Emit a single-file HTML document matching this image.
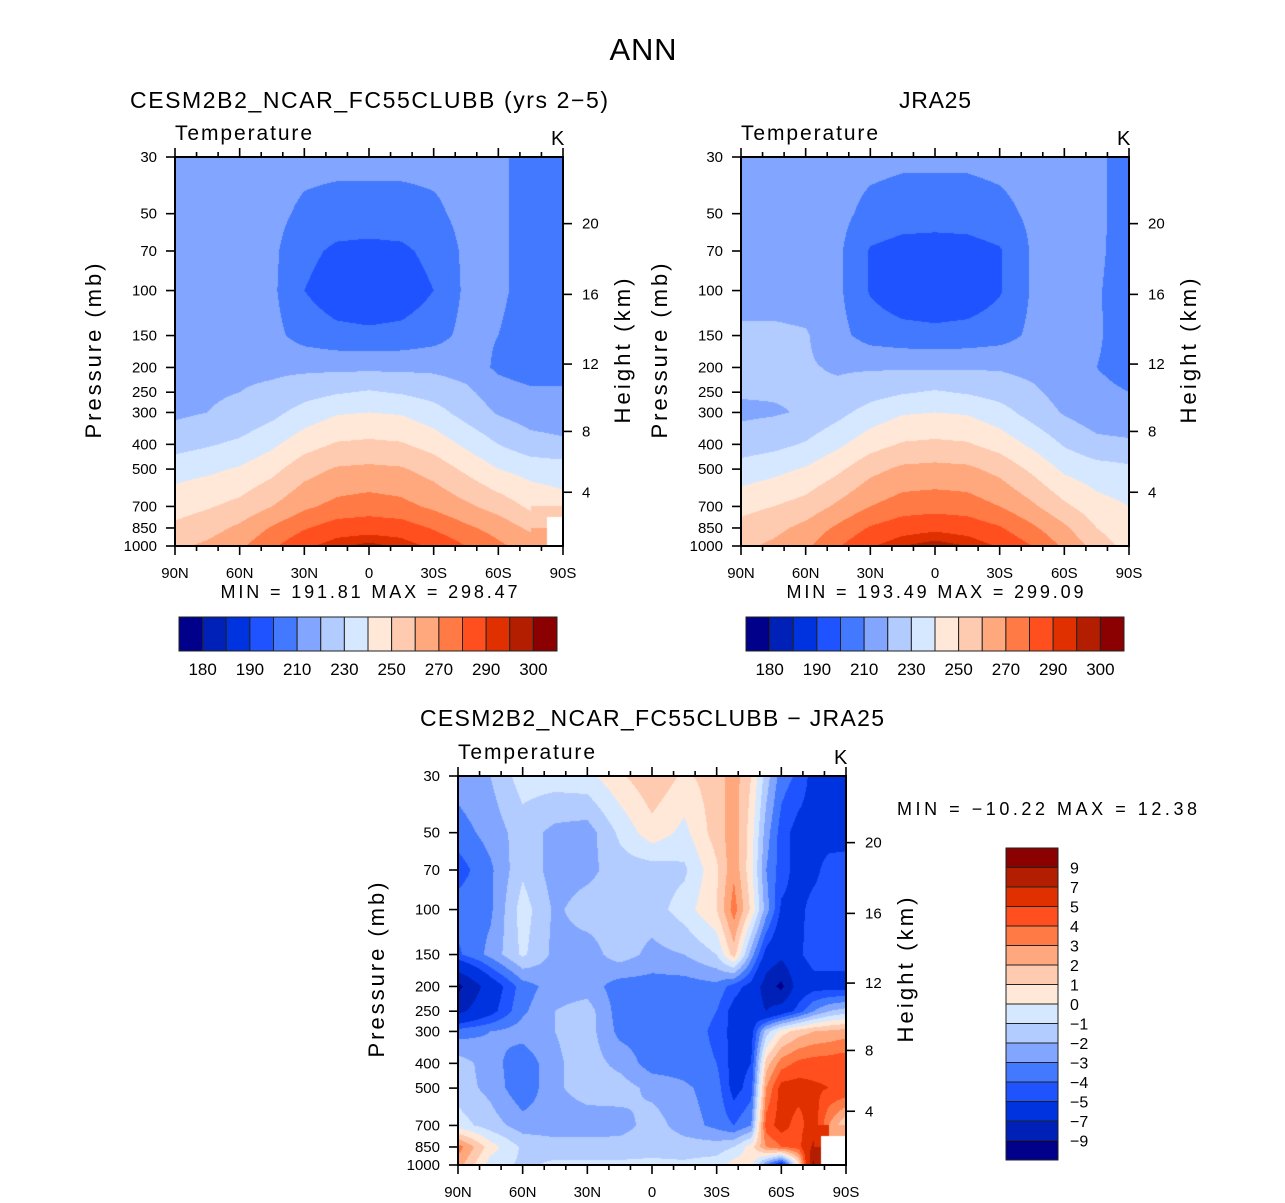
<!DOCTYPE html>
<html><head><meta charset="utf-8">
<style>
body{margin:0;background:#fff;width:1285px;height:1203px;overflow:hidden;position:relative;font-family:"Liberation Sans",sans-serif}
canvas{position:absolute}
svg{position:absolute;left:0;top:0}
text{font-family:"Liberation Sans",sans-serif;fill:#000}
</style></head>
<body>
<canvas id="c1" width="388" height="389" style="left:175px;top:157px"></canvas>
<canvas id="c2" width="388" height="389" style="left:741px;top:157px"></canvas>
<canvas id="c3" width="388" height="389" style="left:458px;top:776px"></canvas>
<svg id="s" width="1285" height="1203">
<text x="643" y="60" font-size="31" text-anchor="middle" textLength="67">ANN</text>
</svg>
<script>
const levs=[30,50,70,100,150,200,250,300,400,500,700,850,1000];
const latsT=[90,75,60,45,30,15,0,-15,-30,-45,-60,-75,-90];
const cesm=[
[215,215,215,214,213,213,213,213,213,213,212,206,205],
[215,215,214,213,208,206,206,206,208,213,212,206,205],
[215,215,214,212,203,198,197,198,203,212,212,206,205],
[215,215,214,212,200,194,193,194,200,212,212,206,205],
[216,216,215,213,206,203,202,203,206,213,210,205,204],
[217,217,218,218,218,218,218,218,218,216,208,204,204],
[218,219,220,222,226,229,231,229,226,222,215,212,212],
[218,220,222,227,234,239,240,239,234,226,219,215,214],
[226,229,232,238,246,251,252,251,246,238,230,224,222],
[236,238,241,247,256,261,262,261,256,248,240,236,235],
[246,249,253,260,268,273,275,273,268,262,256,248,244],
[252,256,262,271,279,285,286,285,279,272,266,258,NaN],
[258,262,268,278,288,294,297,294,288,280,272,266,NaN]];
const jra=[
[215,215,215,214,213,212,212,212,213,214,214,212,206],
[215,215,215,213,207,205,205,205,207,212,214,212,206],
[215,215,215,212,199,196,195,196,199,211,213,212,205],
[216,216,215,212,199,193,192,193,199,211,212,211,205],
[222,222,221,213,206,204,203,204,206,212,213,211,206],
[222,223,221,219,219,219,219,219,219,217,214,210,207],
[221,221,221,222,226,229,231,229,226,222,216,212,210],
[218,219,221,227,234,239,240,239,234,226,219,214,212],
[225,227,231,238,246,251,252,251,246,238,229,223,222],
[234,237,241,248,257,262,263,262,257,248,238,234,232],
[247,250,254,262,270,275,276,275,270,262,252,244,240],
[253,257,263,272,281,286,288,286,281,272,262,250,242],
[258,262,268,279,289,295,298,295,289,280,268,256,246]];
const diffLats=[90,75,60,45,30,15,0,-15,-30,-38,-46,-53,-60,-68,-75,-82,-90];
const diff=[
[-2.5,-2,-0.5,-0.5,-0.3,0.8,1.8,0.8,1.5,2.5,1.0,-1.5,-3.5,-4.2,-5.5,-5.5,-5.5],
[-3.5,-2.6,-1.5,-2.3,-2.5,-0.8,0.6,-0.3,1.5,2.6,0.5,-2.5,-4.5,-5.5,-5.5,-5.5,-5.5],
[-4.5,-3.2,-1.2,-2.5,-2.3,-1.5,-1.5,-1.2,0.8,2.8,0.3,-3,-4.5,-5.5,-5.3,-4.6,-4.5],
[-3.5,-3.2,-0.5,-2.2,-1.5,-1.5,-1.5,-0.5,1.0,3.5,0.8,-2.5,-5.2,-5.3,-4.6,-4.6,-4.2],
[-4.2,-2.7,-0.8,-2.3,-2.5,-1.5,-2.3,-2.0,-1.0,1.5,-2.5,-5.5,-6.5,-5.2,-4.5,-4.5,-4.5],
[-9.5,-6,-3.5,-2.5,-2.5,-3.5,-3.5,-3.5,-3.3,-4.5,-5.5,-8,-9.5,-6,-5.5,-5.5,-5.5],
[-7.5,-5.5,-3.2,-2,-1.5,-3.5,-3.5,-3.5,-4,-5.5,-6,-7,-6,-4.5,-3,-2,-1.5],
[-3.5,-3,-2.5,-2,-1.5,-3.3,-3.5,-3.5,-4.2,-5.5,-5.5,-1.5,0.5,1.5,2,2.2,2.5],
[-1.5,-2.5,-3.8,-2.2,-1.5,-2.3,-3.5,-3.5,-4,-5.5,-5,1.5,3.5,4.3,4.5,4.6,4.8],
[-1.5,-2.3,-3.8,-2.2,-1.5,-1.5,-2.3,-2.8,-3.5,-5.5,-4.5,3,5.5,5.5,5.2,5.0,5.0],
[-0.5,-1.5,-2.5,-2.6,-2.6,-2.5,-1.5,-2.5,-3.3,-4,-3,4.5,5.5,4.5,5.8,3,1],
[3.5,0.5,-1.2,-1.5,-1.5,-1.5,-1.3,-1.5,-1.5,-1,0.5,3,4,4.5,7.5,NaN,NaN],
[2.5,-0.5,-1.2,-0.8,-0.8,-0.8,-0.8,-0.8,-0.5,0.5,0.5,-3,-6,0.5,9.5,NaN,NaN]];
const absBounds=[180,185,190,200,210,220,230,240,250,260,270,280,290,295,300];
const absLabels=["180","190","210","230","250","270","290","300"];
const diffBounds=[-9,-7,-5,-4,-3,-2,-1,0,1,2,3,4,5,7,9];
const diffLabels=["9","7","5","4","3","2","1","0","−1","−2","−3","−4","−5","−7","−9"];
const colors=['#00008a','#0021b8','#0033e0','#1f53ff','#4279ff','#82a6ff','#b3ccff','#d6e8ff','#ffe8d8','#ffcbb0','#ffa87e','#ff7a45','#ff4f1e','#e03000','#b31e00','#8b0000'];
const heights=[4,8,12,16,20];
const heightP=[616,356,194,103.5,54.7];
const xTickLabels=["90N","60N","30N","0","30S","60S","90S"];

const W=388,H=389,LN=Math.log(1000/30);
function yOfP(p){return Math.log(p/30)/LN*H;}
function xOfLat(l){return (90-l)/180*W;}
function rgb(h){return [parseInt(h.slice(1,3),16),parseInt(h.slice(3,5),16),parseInt(h.slice(5,7),16)];}
const crgb=colors.map(rgb);
function drawField(id,lats,grid,bounds){
  const cv=document.getElementById(id),ctx=cv.getContext('2d');
  const img=ctx.createImageData(W,H);
  const ly=levs.map(p=>Math.log(p/30));
  for(let py=0;py<H;py++){
    const l=(py+0.5)/H*LN;
    let j=0;while(j<levs.length-2&&ly[j+1]<l)j++;
    const t=(l-ly[j])/(ly[j+1]-ly[j]);
    for(let px=0;px<W;px++){
      const lat=90-(px+0.5)/W*180;
      let i=0;while(i<lats.length-2&&lats[i+1]>lat)i++;
      const s=(lats[i]-lat)/(lats[i]-lats[i+1]);
      const a=grid[j][i],b=grid[j][i+1],c=grid[j+1][i],d=grid[j+1][i+1];
      let v;
      if(isNaN(a)||isNaN(b)||isNaN(c)||isNaN(d)){
        const near=grid[t<0.5?j:j+1][s<0.5?i:i+1];
        if(isNaN(near))v=NaN;
        else{const ok=[a,b,c,d].filter(x=>!isNaN(x));v=ok.reduce((p,q)=>p+q)/ok.length;}
      }else v=(1-t)*((1-s)*a+s*b)+t*((1-s)*c+s*d);
      const k=(py*W+px)*4;
      if(isNaN(v)){img.data[k]=255;img.data[k+1]=255;img.data[k+2]=255;img.data[k+3]=255;continue;}
      let ci=0;while(ci<bounds.length&&v>=bounds[ci])ci++;
      const col=crgb[ci];
      img.data[k]=col[0];img.data[k+1]=col[1];img.data[k+2]=col[2];img.data[k+3]=255;
    }
  }
  ctx.putImageData(img,0,0);
}
drawField('c1',latsT,cesm,absBounds);
drawField('c2',latsT,jra,absBounds);
drawField('c3',diffLats,diff,diffBounds);

const S=document.getElementById('s'),NS='http://www.w3.org/2000/svg';
function el(tag,at,txt){const e=document.createElementNS(NS,tag);for(const k in at)e.setAttribute(k,at[k]);if(txt!==undefined)e.textContent=txt;S.appendChild(e);return e;}
function axes(ox,oy,prefix){
  let e=el('rect',{x:ox,y:oy,width:W,height:H,fill:'none',stroke:'#000','stroke-width':2});
  
  
  for(let lat=90;lat>=-90;lat-=10){
    const x=ox+xOfLat(lat),maj=lat%30===0,L=maj?9:5;
    e=el('line',{x1:x,x2:x,y1:oy,y2:oy-L,stroke:'#000','stroke-width':1.6});
    
    
    e=el('line',{x1:x,x2:x,y1:oy+H,y2:oy+H+L,stroke:'#000','stroke-width':1.6});
    
    
  }
  xTickLabels.forEach((t,k)=>{
    const x=ox+k*W/6;
    const e2=el('text',{x:x,y:oy+H+32,'font-size':15,'text-anchor':'middle'},t);
    
    
  });
  levs.forEach(p=>{
    const y=oy+yOfP(p);
    const e1=el('line',{x1:ox,x2:ox-9,y1:y,y2:y,stroke:'#000','stroke-width':1.6});
    
    
    const e2=el('text',{x:ox-18,y:y+5,'font-size':15,'text-anchor':'end'},String(p));
    
    
  });
  heights.forEach((h,k)=>{
    const y=oy+yOfP(heightP[k]);
    const e1=el('line',{x1:ox+W,x2:ox+W+9,y1:y,y2:y,stroke:'#000','stroke-width':1.6});
    
    
    const e2=el('text',{x:ox+W+19,y:y+5,'font-size':15},String(h));
    
    
  });
  e=el('text',{x:0,y:0,'font-size':22,'text-anchor':'middle',textLength:175,transform:`translate(${ox-74},${oy+194}) rotate(-90)`},'Pressure (mb)');
  
  
  e=el('text',{x:0,y:0,'font-size':22,'text-anchor':'middle',textLength:145,transform:`translate(${ox+W+67},${oy+194}) rotate(-90)`},'Height (km)');
  
  
  e=el('text',{x:ox,y:oy-17,'font-size':21,textLength:137},'Temperature');
  
  
  e=el('text',{x:ox+W-12,y:oy-12,'font-size':20},'K');
  
  
}
axes(175,157,'cesm');axes(741,157,'jra');axes(458,776,'diff');

let t=el('text',{x:369,y:108,'font-size':23,'text-anchor':'middle',textLength:478},'CESM2B2_NCAR_FC55CLUBB (yrs 2−5)');


t=el('text',{x:935,y:108,'font-size':23,'text-anchor':'middle',textLength:72},'JRA25');


t=el('text',{x:652,y:726,'font-size':23,'text-anchor':'middle',textLength:464},'CESM2B2_NCAR_FC55CLUBB − JRA25');


t=el('text',{x:369,y:598,'font-size':18,'text-anchor':'middle',textLength:297},'MIN = 191.81 MAX = 298.47');


t=el('text',{x:935,y:598,'font-size':18,'text-anchor':'middle',textLength:297},'MIN = 193.49 MAX = 299.09');


t=el('text',{x:897,y:815,'font-size':18,textLength:300},'MIN = −10.22 MAX = 12.38');



function hbar(ox,prefix){
  const bw=378/16;
  colors.forEach((c,k)=>{
    const r=el('rect',{x:ox+k*bw,y:617,width:bw,height:34,fill:c,stroke:'#222','stroke-width':1});
    
    
  });
  absLabels.forEach((s,k)=>{
    const tx=el('text',{x:ox+(2*k+1)*bw,y:675,'font-size':17,'text-anchor':'middle'},s);
    
    
  });
}
hbar(179,'cesm');hbar(746,'jra');
const bh=312/16;
colors.slice().reverse().forEach((c,k)=>{
  const r=el('rect',{x:1006,y:848+k*bh,width:52,height:bh,fill:c,stroke:'#222','stroke-width':1});
  
  
});
diffLabels.forEach((s,k)=>{
  const tx=el('text',{x:1070,y:848+(k+1)*bh+6,'font-size':16},s);
  
  
});
</script>
</body></html>
